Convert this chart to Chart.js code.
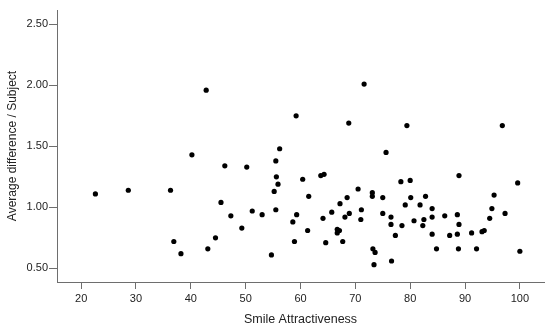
<!DOCTYPE html>
<html>
<head>
<meta charset="utf-8">
<script src="https://cdn.jsdelivr.net/npm/chart.js@4"></script>
<style>
  html, body { margin: 0; padding: 0; background: #fff; }
  #wrap { width: 550px; height: 331px; }
</style>
</head>
<body>
<div id="wrap"><canvas id="chart" width="550" height="331"></canvas></div>
<script>
// Smile attractiveness vs average difference per subject
const smile = [
  22.6, 28.6, 36.3, 36.9, 38.2, 40.2, 42.8, 43.1, 44.5, 45.5,
  46.2, 47.3, 49.3, 50.2, 51.2, 53.0, 54.7, 55.2, 55.5, 55.5,
  55.6, 55.9, 56.2, 58.6, 58.9, 59.2, 59.3, 60.4, 61.3, 61.5,
  63.7, 64.3, 64.1, 64.6, 65.7, 66.7, 67.1, 66.7, 67.2, 67.7,
  68.1, 68.5, 68.8, 68.9, 70.5, 71.0, 71.1, 71.6, 73.1, 73.1,
  73.2, 73.6, 73.4, 75.0, 75.0, 75.6, 76.5, 76.5, 76.6, 77.3,
  78.3, 78.5, 79.1, 79.4, 80.0, 80.1, 80.7, 81.8, 82.3, 82.5,
  82.8, 84.0, 84.0, 84.0, 84.8, 86.3, 87.2, 88.6, 88.6, 88.8,
  88.9, 88.9, 91.2, 92.1, 93.1, 93.5, 94.5, 94.9, 95.3, 96.8,
  97.3, 99.6, 100.0
];
const avgDiff = [
  1.11, 1.14, 1.14, 0.72, 0.62, 1.43, 1.96, 0.66, 0.75, 1.04,
  1.34, 0.93, 0.83, 1.33, 0.97, 0.94, 0.61, 1.13, 1.38, 0.98,
  1.25, 1.19, 1.48, 0.88, 0.72, 1.75, 0.94, 1.23, 0.81, 1.09,
  1.26, 1.27, 0.91, 0.71, 0.96, 0.82, 0.81, 0.79, 1.03, 0.72,
  0.92, 1.08, 1.69, 0.95, 1.15, 0.90, 0.98, 2.01, 1.12, 1.09,
  0.66, 0.63, 0.53, 1.08, 0.95, 1.45, 0.92, 0.86, 0.56, 0.77,
  1.21, 0.85, 1.02, 1.67, 1.22, 1.08, 0.89, 1.02, 0.85, 0.90,
  1.09, 0.99, 0.92, 0.78, 0.66, 0.93, 0.77, 0.94, 0.78, 0.66,
  1.26, 0.86, 0.79, 0.66, 0.80, 0.81, 0.91, 0.99, 1.10, 1.67,
  0.95, 1.20, 0.64
];

const X_TICKS = [20, 30, 40, 50, 60, 70, 80, 90, 100];
const Y_TICKS = [0.5, 1.0, 1.5, 2.0, 2.5];

const FONT = '"Liberation Sans", Arial, Helvetica, sans-serif';
const axisColor = '#6e6e6e';
const textColor = '#222';

const points = smile.map((x, i) => ({ x: x, y: avgDiff[i] }));

new Chart(document.getElementById('chart'), {
  type: 'scatter',
  data: {
    datasets: [{
      data: points,
      backgroundColor: '#000',
      borderWidth: 0,
      pointRadius: 2.6,
      pointHoverRadius: 2.6,
    }]
  },
  options: {
    responsive: false,
    animation: false,
    layout: { padding: { top: 10, right: 6, left: 0, bottom: 0 } },
    plugins: { legend: { display: false }, tooltip: { enabled: false } },
    scales: {
      x: {
        type: 'linear',
        min: 15.6,
        max: 104.4,
        afterBuildTicks: s => { s.ticks = X_TICKS.map(v => ({ value: v })); },
        afterFit: s => { s.height = 49; },
        border: { display: true, color: axisColor, width: 1 },
        grid: { drawOnChartArea: false, drawTicks: true, tickLength: 7, color: axisColor },
        ticks: { color: textColor, padding: 3, maxRotation: 0, font: { family: FONT, size: 11 } },
        title: {
          display: true,
          text: 'Smile Attractiveness',
          color: textColor,
          font: { family: FONT, size: 12.5 },
          padding: { top: 0, bottom: 4 }
        }
      },
      y: {
        type: 'linear',
        min: 0.388,
        max: 2.617,
        afterBuildTicks: s => { s.ticks = Y_TICKS.map(v => ({ value: v })); },
        afterFit: s => { s.width = 57; },
        border: { display: true, color: axisColor, width: 1 },
        grid: { drawOnChartArea: false, drawTicks: true, tickLength: 8, color: axisColor },
        ticks: {
          color: textColor,
          padding: 1,
          font: { family: FONT, size: 11 },
          callback: v => Number(v).toFixed(2)
        },
        title: {
          display: true,
          text: 'Average difference / Subject',
          color: textColor,
          font: { family: FONT, size: 12 },
          padding: { top: 5, bottom: 0 }
        }
      }
    }
  }
});
</script>
</body>
</html>
